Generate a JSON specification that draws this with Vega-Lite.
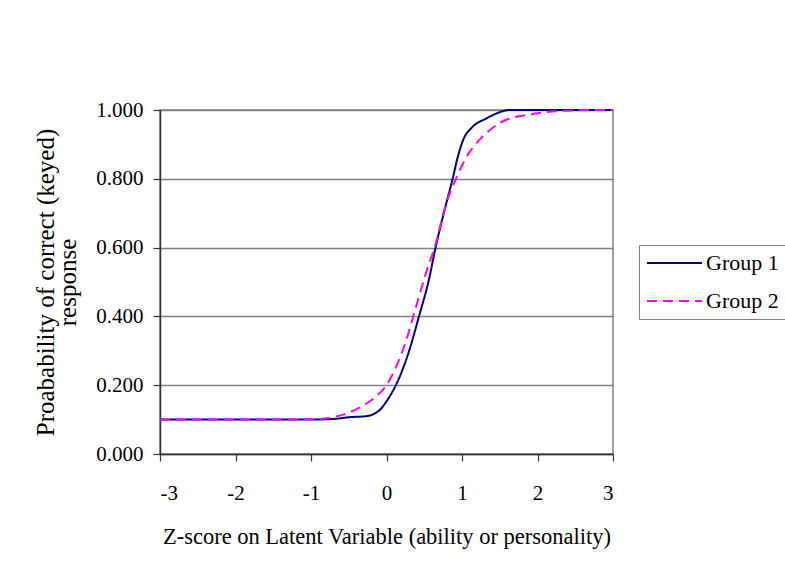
{
  "$schema": "https://vega.github.io/schema/vega-lite/v6.json",
  "autosize": "none",
  "width": 453,
  "height": 344,
  "padding": {"left": 160, "top": 110, "right": 172, "bottom": 121},
  "background": "white",
  "data": {
    "values": [
      {"z": -3, "p": 0.1, "g": "Group 1"},
      {"z": -2, "p": 0.1, "g": "Group 1"},
      {"z": -1, "p": 0.1, "g": "Group 1"},
      {"z": -0.7, "p": 0.102, "g": "Group 1"},
      {"z": -0.49, "p": 0.107, "g": "Group 1"},
      {"z": -0.27, "p": 0.11, "g": "Group 1"},
      {"z": -0.1, "p": 0.126, "g": "Group 1"},
      {"z": 0.035, "p": 0.165, "g": "Group 1"},
      {"z": 0.124, "p": 0.2, "g": "Group 1"},
      {"z": 0.3, "p": 0.3, "g": "Group 1"},
      {"z": 0.43, "p": 0.4, "g": "Group 1"},
      {"z": 0.56, "p": 0.505, "g": "Group 1"},
      {"z": 0.65, "p": 0.6, "g": "Group 1"},
      {"z": 0.77, "p": 0.71, "g": "Group 1"},
      {"z": 0.876, "p": 0.8, "g": "Group 1"},
      {"z": 0.94, "p": 0.86, "g": "Group 1"},
      {"z": 1.01, "p": 0.91, "g": "Group 1"},
      {"z": 1.14, "p": 0.951, "g": "Group 1"},
      {"z": 1.32, "p": 0.975, "g": "Group 1"},
      {"z": 1.49, "p": 0.993, "g": "Group 1"},
      {"z": 1.63, "p": 1.0, "g": "Group 1"},
      {"z": 2, "p": 1.0, "g": "Group 1"},
      {"z": 3, "p": 1.0, "g": "Group 1"},
      {"z": -3, "p": 0.1, "g": "Group 2"},
      {"z": -2, "p": 0.1, "g": "Group 2"},
      {"z": -1, "p": 0.101, "g": "Group 2"},
      {"z": -0.71, "p": 0.107, "g": "Group 2"},
      {"z": -0.49, "p": 0.121, "g": "Group 2"},
      {"z": -0.27, "p": 0.146, "g": "Group 2"},
      {"z": -0.1, "p": 0.175, "g": "Group 2"},
      {"z": 0, "p": 0.2, "g": "Group 2"},
      {"z": 0.124, "p": 0.252, "g": "Group 2"},
      {"z": 0.26, "p": 0.33, "g": "Group 2"},
      {"z": 0.39, "p": 0.427, "g": "Group 2"},
      {"z": 0.52, "p": 0.524, "g": "Group 2"},
      {"z": 0.65, "p": 0.61, "g": "Group 2"},
      {"z": 0.79, "p": 0.728, "g": "Group 2"},
      {"z": 0.92, "p": 0.8, "g": "Group 2"},
      {"z": 1.05, "p": 0.86, "g": "Group 2"},
      {"z": 1.23, "p": 0.913, "g": "Group 2"},
      {"z": 1.4, "p": 0.947, "g": "Group 2"},
      {"z": 1.58, "p": 0.971, "g": "Group 2"},
      {"z": 1.85, "p": 0.985, "g": "Group 2"},
      {"z": 2.11, "p": 0.994, "g": "Group 2"},
      {"z": 2.38, "p": 0.998, "g": "Group 2"},
      {"z": 2.7, "p": 1.0, "g": "Group 2"},
      {"z": 3, "p": 1.0, "g": "Group 2"}
    ]
  },
  "mark": {"type": "line", "interpolate": "monotone", "strokeWidth": 2},
  "encoding": {
    "x": {
      "field": "z", "type": "quantitative",
      "scale": {"domain": [-3, 3], "nice": false, "zero": false},
      "axis": {
        "values": [-3, -2, -1, 0, 1, 2, 3],
        "labelExpr": "datum.value < 0 ? '-' + abs(datum.value) : '' + datum.value",
        "grid": false,
        "title": "Z-score on Latent Variable (ability or personality)",
        "titleFontSize": 22.5,
        "titleY": 89, "titleBaseline": "alphabetic",
        "labelPadding": 21
      }
    },
    "y": {
      "field": "p", "type": "quantitative",
      "scale": {"domain": [0, 1], "nice": false},
      "axis": {
        "values": [0, 0.2, 0.4, 0.6, 0.8, 1.0],
        "format": ".3f",
        "grid": true,
        "title": ["Proabability of correct (keyed)", "response"],
        "titleFontSize": 25,
        "titleX": -127, "titleBaseline": "top", "titleLineHeight": 22,
        "labelPadding": 10
      }
    },
    "color": {
      "field": "g", "type": "nominal",
      "scale": {"domain": ["Group 1", "Group 2"], "range": ["#000080", "#FF00FF"]},
      "legend": {
        "title": null,
        "orient": "none",
        "legendX": 479,
        "legendY": 135,
        "symbolType": "stroke",
        "symbolSize": 3025,
        "symbolStrokeWidth": 2,
        "clipHeight": 22,
        "labelFontSize": 22,
        "labelFont": "Liberation Serif",
        "labelColor": "#000000",
        "labelOffset": 3,
        "rowPadding": 16,
        "padding": 7,
        "strokeColor": "#808080",
        "fillColor": "white"
      }
    },
    "strokeDash": {
      "field": "g", "type": "nominal",
      "scale": {"domain": ["Group 1", "Group 2"], "range": [[1, 0], [10, 6]]},
      "legend": null
    }
  },
  "config": {
    "font": "Liberation Serif",
    "view": {"stroke": "#808080", "strokeWidth": 1.5},
    "axis": {
      "labelFont": "Liberation Serif",
      "labelFontSize": 21,
      "labelColor": "#000000",
      "titleFont": "Liberation Serif",
      "titleFontWeight": "normal",
      "titleColor": "#000000",
      "domainColor": "#333333",
      "domainWidth": 1.5,
      "tickColor": "#333333",
      "tickSize": 7,
      "tickWidth": 1.2,
      "gridColor": "#808080",
      "gridWidth": 1.5,
      "gridOpacity": 1
    }
  }
}
